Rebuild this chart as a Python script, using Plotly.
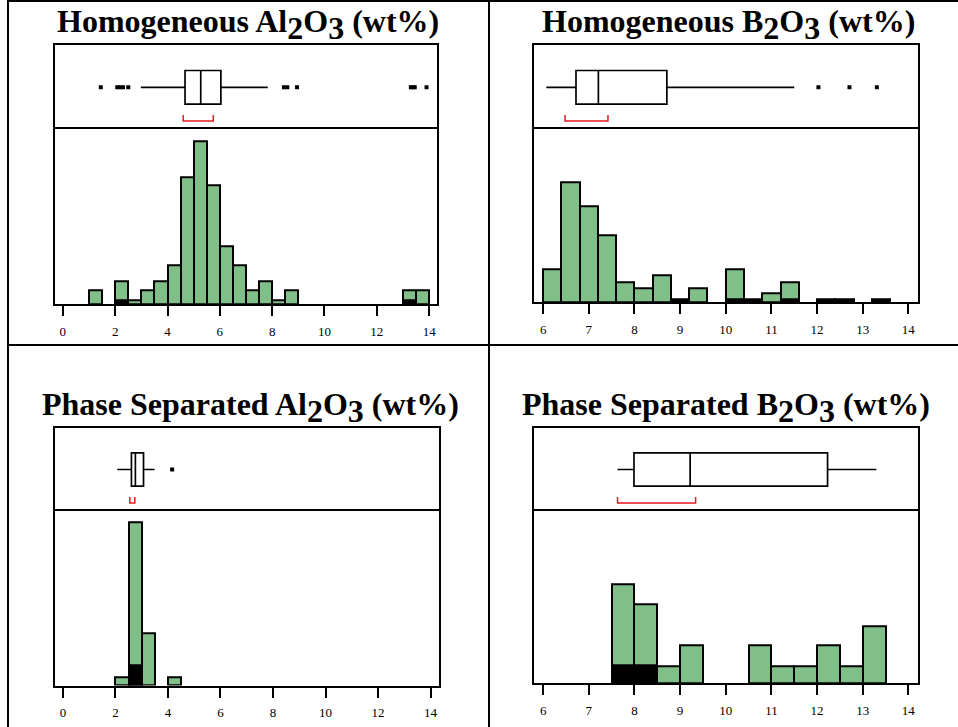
import plotly.graph_objects as go

# ---------------- data ----------------
# Homogeneous Al2O3
hal_bins = [1.25, 2.25, 2.75, 3.25, 3.75, 4.25, 4.75, 5.25, 5.75, 6.25, 6.75, 7.25, 7.75, 8.25, 8.75, 13.25, 13.75]
hal_green = [1.4, 2.4, 0.42, 1.4, 2.4, 4.1, 13.3, 17.0, 12.4, 6.0, 4.1, 1.4, 2.4, 0.42, 1.4, 1.4, 1.4]
hal_black_bins = [2.25, 13.25]
hal_black = [0.42, 0.42]
hal_box = dict(lowerfence=2.98, q1=4.67, median=5.27, q3=6.04, upperfence=7.83)
hal_outliers = [1.45, 2.08, 2.2, 2.3, 2.5, 8.45, 8.58, 8.95, 13.3, 13.38, 13.45, 13.9]
hal_bracket = [4.6, 5.75]

# Homogeneous B2O3
hb_bins = [6.2, 6.6, 7.0, 7.4, 7.8, 8.2, 8.6, 9.4, 10.2, 11.0, 11.4]
hb_green = [5.0, 18.4, 14.7, 10.3, 3.0, 2.05, 4.05, 2.1, 5.0, 1.3, 3.0]
hb_black_bins = [9.0, 10.2, 10.6, 11.4, 12.2, 12.6, 13.4]
hb_black = [0.4, 0.4, 0.4, 0.4, 0.4, 0.4, 0.4]
hb_box = dict(lowerfence=6.07, q1=6.72, median=7.21, q3=8.71, upperfence=11.5)
hb_outliers = [12.03, 12.71, 13.31]
hb_bracket = [6.48, 7.42]

# Phase separated Al2O3
pal_bins = [2.25, 2.75, 3.25, 4.25]
pal_green = [1.0, 18.8, 6.0, 1.0]
pal_black_bins = [2.75]
pal_black = [2.3]
pal_box = dict(lowerfence=2.07, q1=2.61, median=2.76, q3=3.07, upperfence=3.49)
pal_outliers = [4.16]
pal_bracket = [2.55, 2.74]

# Phase separated B2O3
pb_bins = [7.75, 8.25, 8.75, 9.25, 10.75, 11.25, 11.75, 12.25, 12.75, 13.25]
pb_green = [5.0, 4.0, 0.86, 1.9, 1.9, 0.86, 0.86, 1.9, 0.86, 2.9]
pb_black_bins = [7.75, 8.25]
pb_black = [0.9, 0.9]
pb_box = dict(lowerfence=7.63, q1=7.99, median=9.22, q3=12.23, upperfence=13.3)
pb_outliers = []
pb_bracket = [7.63, 9.34]

SUB2 = "<sub><span style='font-size:32px'>2</span></sub>"
SUB3 = "<sub><span style='font-size:32px'>3</span></sub>"
titles = [f"Homogeneous Al{SUB2}O{SUB3} (wt%)",
          f"Homogeneous B{SUB2}O{SUB3} (wt%)",
          f"Phase Separated Al{SUB2}O{SUB3} (wt%)",
          f"Phase Separated B{SUB2}O{SUB3} (wt%)"]
ticks_al = [0, 2, 4, 6, 8, 10, 12, 14]
ticks_b = [6, 7, 8, 9, 10, 11, 12, 13, 14]

# ---------------- layout helpers ----------------
W, H = 958, 727
def fx(p): return p / W
def fy(p): return 1 - p / H

GREEN = "#80c088"
RED = "#e31a1c"
SERIF = "Liberation Serif"

panels = [
    dict(bins=hal_bins, green=hal_green, bbins=hal_black_bins, black=hal_black, box=hal_box,
         out=hal_outliers, br=hal_bracket, bw=0.5, xr=[-0.3, 14.3], yr=18.3, ticks=ticks_al,
         x0=55, x1=437, top=45.3, mid=129.3, bot=304, title=titles[0], tx=248, ty=25),
    dict(bins=hb_bins, green=hb_green, bbins=hb_black_bins, black=hb_black, box=hb_box,
         out=hb_outliers, br=hb_bracket, bw=0.4, xr=[5.8, 14.2], yr=26.5, ticks=ticks_b,
         x0=534, x1=917.5, top=45.3, mid=129.3, bot=302, title=titles[1], tx=728, ty=25),
    dict(bins=pal_bins, green=pal_green, bbins=pal_black_bins, black=pal_black, box=pal_box,
         out=pal_outliers, br=pal_bracket, bw=0.5, xr=[-0.3, 14.3], yr=20.1, ticks=ticks_al,
         x0=55, x1=438.5, top=427.7, mid=511.3, bot=685.5, title=titles[2], tx=250, ty=407),
    dict(bins=pb_bins, green=pb_green, bbins=pb_black_bins, black=pb_black, box=pb_box,
         out=pb_outliers, br=pb_bracket, bw=0.5, xr=[5.8, 14.2], yr=8.73, ticks=ticks_b,
         x0=534, x1=917.5, top=427.7, mid=511.3, bot=683, title=titles[3], tx=726, ty=407),
]

fig = go.Figure()
layout = {}
annotations = []
ax = 1
for p in panels:
    hi, bi = ax, ax + 1  # hist axes index, box axes index
    ax += 2
    hx = "x" if hi == 1 else f"x{hi}"
    hy = "y" if hi == 1 else f"y{hi}"
    bx, by = f"x{bi}", f"y{bi}"
    # histogram bars
    fig.add_trace(go.Bar(x=p["bins"], y=p["green"], width=[p["bw"]] * len(p["bins"]),
                         marker=dict(color=GREEN, line=dict(color="black", width=2)),
                         xaxis=hx, yaxis=hy, hoverinfo="skip"))
    fig.add_trace(go.Bar(x=p["bbins"], y=p["black"], width=[p["bw"]] * len(p["bbins"]),
                         marker=dict(color="black", line=dict(color="black", width=2)),
                         xaxis=hx, yaxis=hy, hoverinfo="skip"))
    # box plot
    b = p["box"]
    fig.add_trace(go.Box(orientation="h", y=[0.5], q1=[b["q1"]], median=[b["median"]], q3=[b["q3"]],
                         lowerfence=[b["lowerfence"]], upperfence=[b["upperfence"]],
                         width=0.4, whiskerwidth=0, fillcolor="white",
                         line=dict(color="black", width=1.7), boxpoints=False,
                         xaxis=bx, yaxis=by, hoverinfo="skip"))
    if p["out"]:
        fig.add_trace(go.Scatter(x=p["out"], y=[0.5] * len(p["out"]), mode="markers",
                                 marker=dict(symbol="square", size=4, color="black"),
                                 xaxis=bx, yaxis=by, hoverinfo="skip"))
    lo, hi_ = p["br"]
    fig.add_trace(go.Scatter(x=[lo, lo, hi_, hi_], y=[0.17, 0.1, 0.1, 0.17], mode="lines",
                             line=dict(color=RED, width=1.5), xaxis=bx, yaxis=by, hoverinfo="skip"))

    dom_x = [fx(p["x0"]), fx(p["x1"])]
    axline = dict(showline=True, mirror=True, linecolor="black", linewidth=2,
                  showgrid=False, zeroline=False)
    layout["xaxis" if hi == 1 else f"xaxis{hi}"] = dict(
        domain=dom_x, range=p["xr"], anchor=hy, tickvals=p["ticks"], ticks="outside",
        ticklen=10, tickwidth=2, tickcolor="black", ticklabelstandoff=4,
        tickfont=dict(family=SERIF, size=13, color="black"), **axline)
    layout["yaxis" if hi == 1 else f"yaxis{hi}"] = dict(
        domain=[fy(p["bot"]), fy(p["mid"])], range=[0, p["yr"]], anchor=hx,
        showticklabels=False, ticks="", **axline)
    # box panel: only a top line on x (the divider comes from the histogram frame)
    layout[f"xaxis{bi}"] = dict(domain=dom_x, range=p["xr"], anchor=by, side="top",
                                showline=True, mirror=False, linecolor="black", linewidth=2,
                                showgrid=False, zeroline=False, showticklabels=False, ticks="")
    layout[f"yaxis{bi}"] = dict(domain=[fy(p["mid"]), fy(p["top"])], range=[0, 1], anchor=bx,
                                showticklabels=False, ticks="", **axline)
    annotations.append(dict(text=f"<b>{p['title']}</b>", x=fx(p["tx"]), y=fy(p["ty"]),
                            xref="paper", yref="paper", xanchor="center", yanchor="middle",
                            showarrow=False, font=dict(family=SERIF, size=32, color="black")))

shapes = [
    dict(type="line", xref="paper", yref="paper", x0=fx(8), x1=fx(8), y0=0, y1=1,
         line=dict(color="black", width=2)),
    dict(type="line", xref="paper", yref="paper", x0=fx(8), x1=1, y0=fy(1), y1=fy(1),
         line=dict(color="black", width=2)),
    dict(type="line", xref="paper", yref="paper", x0=fx(489), x1=fx(489), y0=0, y1=1,
         line=dict(color="black", width=2)),
    dict(type="line", xref="paper", yref="paper", x0=fx(8), x1=1, y0=fy(345), y1=fy(345),
         line=dict(color="black", width=2)),
]

fig.update_layout(width=W, height=H, margin=dict(l=0, r=0, t=0, b=0),
                  paper_bgcolor="white", plot_bgcolor="white", showlegend=False,
                  barmode="overlay", bargap=0, annotations=annotations, shapes=shapes,
                  **layout)
fig.write_html("out.html", config={"displayModeBar": False},
               post_script="document.body.style.margin='0';document.body.style.overflow='hidden';")
